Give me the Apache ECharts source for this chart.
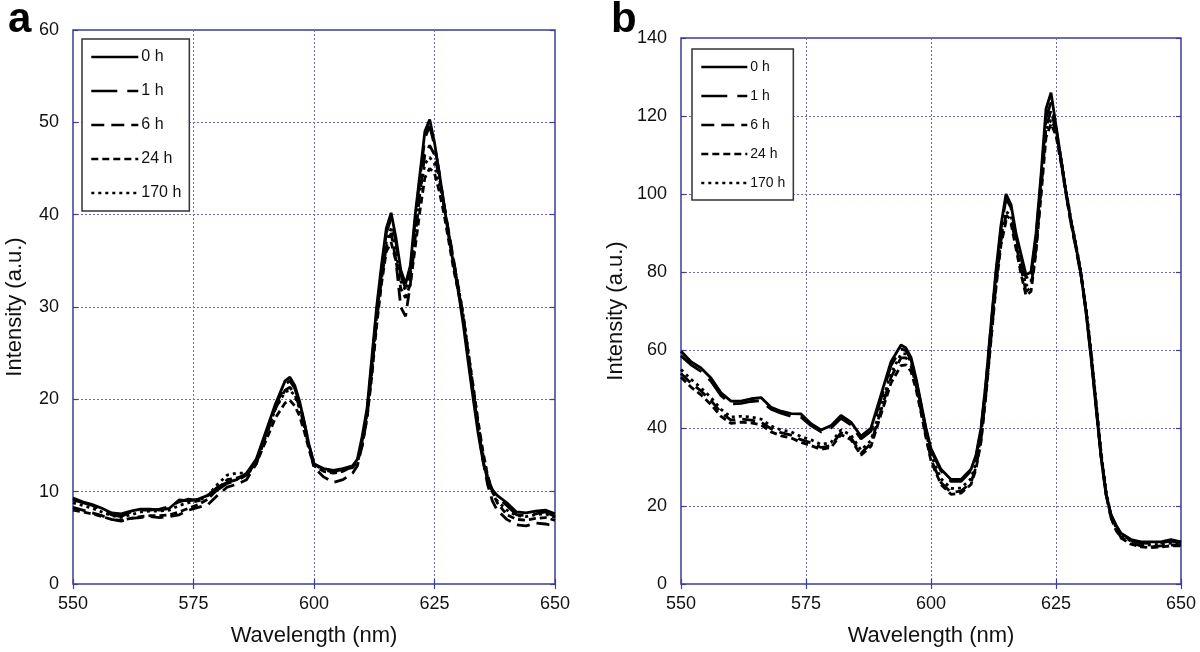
<!DOCTYPE html>
<html>
<head>
<meta charset="utf-8">
<script src="https://cdn.jsdelivr.net/npm/echarts@6/dist/echarts.min.js"></script>
<style>
html,body{margin:0;padding:0;background:#fff;}
#chart{width:1200px;height:652px;}
</style>
</head>
<body>
<div id="chart"></div>
<script>
// Wavelength grid (nm)
const wavelengths = [550,552,554,556,558,560,562,564,566,568,570,572,574,576,578,580,582,584,586,588,590,592,594,595,596,597,598,599,600,602,604,606,608,609,610,611,612,613,614,615,616,617,618,619,620,621,622,623,624,625,626,627,628,629,630,631,632,633,634,635,636,637,638,640,642,644,646,648,650];

const seriesNames = ["0 h", "1 h", "6 h", "24 h", "170 h"];
const xTicks = [550, 575, 600, 625, 650];

// Panel a
const a0h = [9.3,8.9,8.6,8.2,7.7,7.6,7.9,8.1,8.1,8.0,8.2,9.1,9.0,9.2,9.6,10.5,11.0,11.3,12.0,13.5,16.5,19.5,22.0,22.4,21.5,19.8,17.5,15.0,13.0,12.5,12.3,12.5,12.8,13.5,16.0,19.0,24.5,30.0,34.5,38.5,40.2,37.5,34.0,32.5,34.5,40.0,44.5,49.0,50.3,47.8,44.5,41.0,37.5,34.5,31.5,28.0,24.0,20.2,16.5,13.5,11.3,10.2,9.6,8.8,7.8,7.7,7.9,8.0,7.6];
const a1h = [9.1,8.8,8.5,8.0,7.5,7.3,7.8,8.0,8.0,8.1,8.4,8.9,9.2,9.0,9.4,10.2,10.9,11.2,11.8,13.2,16.2,19.2,21.6,22.0,21.2,19.6,17.4,15.0,13.0,12.3,12.2,12.4,12.6,13.2,15.5,18.5,24.0,29.5,34.0,38.0,39.6,37.0,33.5,32.0,34.0,39.5,44.0,48.3,49.6,47.5,44.5,41.0,37.8,34.8,31.8,28.5,24.5,20.6,17.0,13.8,11.5,10.2,9.4,8.5,7.5,7.4,7.6,7.8,7.3];
const a6h = [8.3,8.0,7.7,7.4,7.0,6.8,7.1,7.2,7.3,7.2,7.3,7.5,8.0,8.3,8.6,9.6,10.5,10.8,11.3,13.0,16.0,19.0,21.0,21.3,20.6,19.2,17.0,14.8,12.6,11.6,11.0,11.3,12.0,12.8,15.0,18.0,23.0,28.5,33.0,36.5,38.0,35.0,30.0,29.0,32.5,37.5,42.5,46.5,47.5,46.5,44.0,41.0,38.0,35.0,32.0,29.0,25.0,21.0,17.0,13.5,10.8,9.0,8.0,7.0,6.4,6.3,6.6,6.5,6.3];
const a24h = [8.0,7.8,7.6,7.3,7.0,6.9,7.1,7.3,7.4,7.4,7.5,7.8,8.2,8.6,9.2,10.3,11.3,11.5,11.8,13.0,15.5,18.0,19.6,19.9,19.3,18.2,16.5,14.5,12.8,12.2,12.0,12.2,12.7,13.2,15.0,18.0,22.5,28.0,32.5,36.0,37.0,35.0,32.0,31.0,32.5,36.5,40.5,44.0,45.0,44.5,42.5,40.0,37.0,34.0,31.5,28.5,25.0,21.5,17.8,14.5,11.8,10.0,8.8,7.5,7.0,6.9,7.1,7.2,6.9];
const a170h = [8.8,8.5,8.2,7.8,7.4,7.2,7.5,7.8,7.9,7.9,8.0,8.5,8.8,9.0,9.6,10.8,11.8,12.0,12.0,13.3,16.0,19.0,20.8,21.0,20.4,19.0,17.0,14.8,13.0,12.4,12.1,12.3,12.8,13.3,15.5,18.5,23.5,29.0,33.5,37.0,38.5,36.0,32.8,31.8,33.5,38.0,42.5,45.5,46.2,45.5,43.5,40.8,37.8,34.8,32.0,29.0,25.2,21.4,17.6,14.2,11.6,10.0,9.0,8.0,7.4,7.3,7.5,7.6,7.2];

// Panel b
const b0h = [59.7,57.0,55.4,52.8,49.0,46.9,46.9,47.5,47.8,45.3,44.3,43.7,43.6,41.1,39.5,40.6,43.2,41.5,37.9,40.0,48.5,57.0,61.3,60.5,58.1,52.8,46.4,40.0,34.7,29.4,26.8,26.8,29.4,33.0,40.0,52.0,66.6,80.4,92.0,100.0,97.3,89.9,84.6,79.3,80.0,89.9,104.8,121.8,126.0,117.5,109.0,100.5,93.1,86.7,79.3,69.7,58.1,45.3,32.6,23.0,17.7,15.1,13.0,11.4,10.8,10.8,10.8,11.4,10.8];
const b1h = [58.5,56.2,54.5,52.0,48.3,46.2,46.3,46.8,47.0,44.8,43.8,43.0,42.8,40.6,39.0,40.0,42.5,40.8,37.2,39.2,47.5,56.0,60.3,59.8,57.5,52.3,46.0,39.6,34.2,29.0,26.3,26.3,29.0,32.5,39.5,51.5,66.0,79.5,91.0,98.8,96.5,89.0,83.5,78.5,79.2,89.0,103.5,119.5,123.5,117.0,108.8,100.5,93.0,86.5,79.5,70.0,58.5,45.8,33.0,23.3,17.8,15.0,12.8,11.2,10.5,10.4,10.6,11.0,10.6];
const b6h = [54.0,51.5,49.5,47.0,44.0,42.0,42.3,42.0,41.5,39.8,38.8,38.2,37.0,36.2,35.0,35.5,38.8,37.5,33.5,36.0,44.5,53.0,58.0,58.0,56.0,51.0,44.5,38.0,32.0,26.0,23.5,23.8,26.0,30.0,37.0,49.0,63.0,77.0,88.0,94.5,93.5,87.0,81.0,75.0,76.0,86.0,101.0,117.0,121.5,116.0,108.5,100.0,92.5,86.0,79.0,70.0,59.0,46.0,33.0,23.0,17.0,14.0,12.0,10.5,9.8,9.5,9.8,10.0,10.0];
const b24h = [53.0,50.5,48.5,46.0,43.0,41.2,41.5,41.3,40.8,39.0,38.0,37.5,36.3,35.5,34.5,35.0,38.3,37.0,33.0,35.3,43.5,51.5,56.0,56.2,54.5,50.0,44.0,37.5,31.5,25.5,23.0,23.3,25.5,29.5,36.5,48.5,62.5,76.0,87.0,93.0,92.5,86.0,79.5,74.0,75.0,85.0,99.5,114.5,118.0,115.0,108.0,100.0,92.5,86.0,79.5,70.5,59.5,46.5,33.5,23.5,17.0,13.8,11.8,10.2,9.5,9.3,9.5,9.8,9.8];
const b170h = [55.0,52.5,50.3,47.8,44.8,42.8,43.0,42.8,42.3,40.5,39.5,39.0,37.8,37.0,35.8,36.3,39.5,38.2,34.3,36.8,45.5,54.0,59.0,59.0,57.0,52.0,45.5,39.0,33.0,27.0,24.5,24.6,27.0,31.0,38.0,50.0,64.0,78.0,89.0,95.5,94.5,88.0,82.0,76.5,77.5,87.0,102.0,116.5,119.0,116.5,109.0,101.0,93.5,87.0,80.0,71.0,60.0,47.0,34.0,24.0,17.5,14.5,12.5,11.0,10.2,10.0,10.2,10.5,10.3];

const panelA = [a0h, a1h, a6h, a24h, a170h];
const panelB = [b0h, b1h, b6h, b24h, b170h];

const dashTypes = ['solid', [26, 10], [13, 7], [7, 4], [3, 4]];
const FRAME = '#3c3c9a';
const GRIDC = '#6b6bb3';
const FONT = 'Liberation Sans, Arial, sans-serif';

function pairs(arr) { return wavelengths.map((w, i) => [w, arr[i]]); }

const chart = echarts.init(document.getElementById('chart'), null, {renderer: 'canvas'});

function xAxisDef(gridIndex, bottom) {
  return {
    type: 'value', gridIndex, min: 550, max: 650, interval: 25,
    position: bottom ? 'bottom' : 'top',
    name: bottom ? 'Wavelength (nm)' : '',
    nameLocation: 'middle', nameGap: 41,
    nameTextStyle: {fontSize: 22, color: '#111', fontFamily: FONT},
    axisLine: {show: false},
    axisTick: {show: true, inside: true, length: 5, lineStyle: {color: FRAME, width: 1.2}},
    axisLabel: {show: bottom, fontSize: 18, color: '#111', margin: 11, fontFamily: FONT,
      customValues: xTicks},
    splitLine: {show: bottom, lineStyle: {type: [2, 2], color: GRIDC, width: 1}}
  };
}
function yAxisDef(gridIndex, left, max, interval, gap) {
  return {
    type: 'value', gridIndex, min: 0, max, interval,
    position: left ? 'left' : 'right',
    name: left ? 'Intensity (a.u.)' : '',
    nameLocation: 'middle', nameGap: gap, nameRotate: 90,
    nameTextStyle: {fontSize: 22, color: '#111', fontFamily: FONT},
    axisLine: {show: false},
    axisTick: {show: true, inside: true, length: 5, lineStyle: {color: FRAME, width: 1.2}},
    axisLabel: {show: left, fontSize: 18, color: '#111', margin: 14, fontFamily: FONT},
    splitLine: {show: left, lineStyle: {type: [2, 2], color: GRIDC, width: 1}}
  };
}

const series = [];
seriesNames.forEach((name, k) => {
  series.push({
    name, type: 'line', xAxisIndex: 0, yAxisIndex: 0, data: pairs(panelA[k]),
    showSymbol: false, symbol: 'none', smooth: false, z: 10 - k,
    lineStyle: {color: '#000', width: 2.8, type: dashTypes[k]},
    itemStyle: {color: '#000'}
  });
});
seriesNames.forEach((name, k) => {
  series.push({
    name, type: 'line', xAxisIndex: 1, yAxisIndex: 1, data: pairs(panelB[k]),
    showSymbol: false, symbol: 'none', smooth: false, z: 10 - k,
    lineStyle: {color: '#000', width: 2.8, type: dashTypes[k]},
    itemStyle: {color: '#000'}
  });
});

const legendCommon = {
  data: seriesNames, orient: 'vertical',
  backgroundColor: '#fff', borderColor: '#333', borderWidth: 1.5,
  selectedMode: false,
  itemStyle: {color: 'transparent', borderWidth: 0, opacity: 0},
  lineStyle: {color: '#000', width: 2.6}
};

chart.setOption({
  animation: false,
  backgroundColor: '#fff',
  title: [
    {text: 'a', left: 3, top: -6, textStyle: {fontSize: 42, fontWeight: 'bold', color: '#000', fontFamily: FONT}},
    {text: 'b', left: 606, top: -6, textStyle: {fontSize: 42, fontWeight: 'bold', color: '#000', fontFamily: FONT}}
  ],
  grid: [
    {left: 73, top: 30, width: 482, height: 555, show: true, borderColor: FRAME, borderWidth: 1.5, backgroundColor: '#fff'},
    {left: 681, top: 38, width: 500, height: 547, show: true, borderColor: FRAME, borderWidth: 1.5, backgroundColor: '#fff'}
  ],
  xAxis: [xAxisDef(0, true), xAxisDef(1, true), xAxisDef(0, false), xAxisDef(1, false)],
  yAxis: [yAxisDef(0, true, 60, 10, 47), yAxisDef(1, true, 140, 20, 54), yAxisDef(0, false, 60, 10, 0), yAxisDef(1, false, 140, 20, 0)],
  legend: [
    Object.assign({}, legendCommon, {
      left: 82, top: 39,
      itemWidth: 47, itemHeight: 14, itemGap: 18,
      padding: [10, 8, 10, 8],
      textStyle: {fontSize: 16, color: '#111', fontFamily: FONT, padding: [0, 0, 0, -2]}
    }),
    Object.assign({}, legendCommon, {
      left: 692, top: 49,
      itemWidth: 46, itemHeight: 12, itemGap: 15,
      padding: [11, 8, 10, 8],
      textStyle: {fontSize: 14, color: '#111', fontFamily: FONT, padding: [0, 0, 0, -2]}
    })
  ],
  series
});
</script>
</body>
</html>
